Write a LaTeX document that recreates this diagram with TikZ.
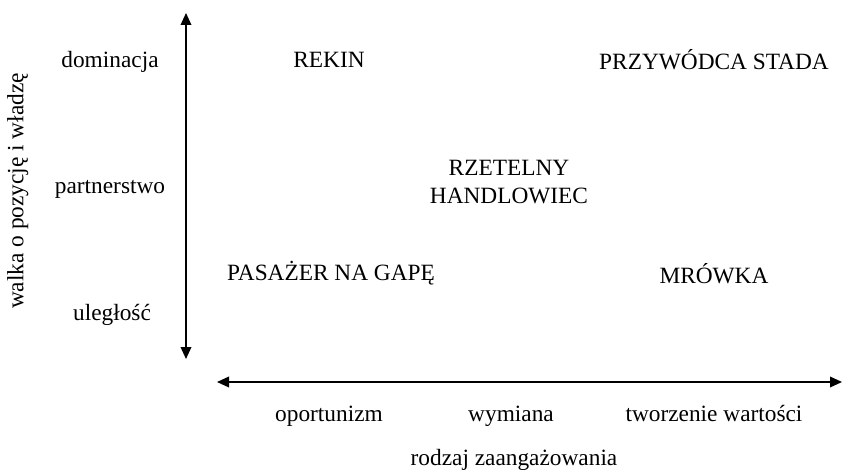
\documentclass[tikz,border=0pt]{standalone}
\usepackage{fontspec}
\setmainfont{Liberation Serif}
\usepackage{tikz}
\usetikzlibrary{arrows.meta,positioning}

\begin{document}
\begin{tikzpicture}[x=0.75pt,y=-0.75pt,
  every node/.style={font=\fontsize{17.5}{20.5}\selectfont,text height=0.72em,text depth=0.22em},
  axis/.style={line width=1.1pt,{Triangle[length=9pt,width=8pt]}-{Triangle[length=9pt,width=8pt]}}]
  \useasboundingbox (0,0) rectangle (842,470);
  % axes
  \coordinate (ytop) at (186,13);
  \coordinate (ybot) at (186,359);
  \coordinate (xleft) at (217,382);
  \coordinate (xright) at (842,382);
  \draw[axis] (ybot) -- (ytop);
  \draw[axis] (xleft) -- (xright);
  % levels
  \node (dom) at (110,64) {dominacja};
  \node (part) at (110,190) {partnerstwo};
  \node (ulg) at (112,317) {uległość};
  \node[rotate=90] (ylab) at (20,191) {walka o pozycję i władzę};
  \node (opo) at (329,418) {oportunizm};
  \node (wym) at (511,418) {wymiana};
  \node (two) at (714,418) {tworzenie wartości};
  \node (xlab) at (514,462) {rodzaj zaangażowania};
  % types
  \node (rekin) at (329,64) {REKIN};
  \node (przyw) at (714,66) {PRZYWÓDCA STADA};
  \node[align=center,text height={},text depth={}] (rzet) at (509,182) {RZETELNY\\HANDLOWIEC};
  \node (pasaz) at (331,277) {PASAŻER NA GAPĘ};
  \node (mrow) at (714,280) {MRÓWKA};
\end{tikzpicture}
\end{document}
